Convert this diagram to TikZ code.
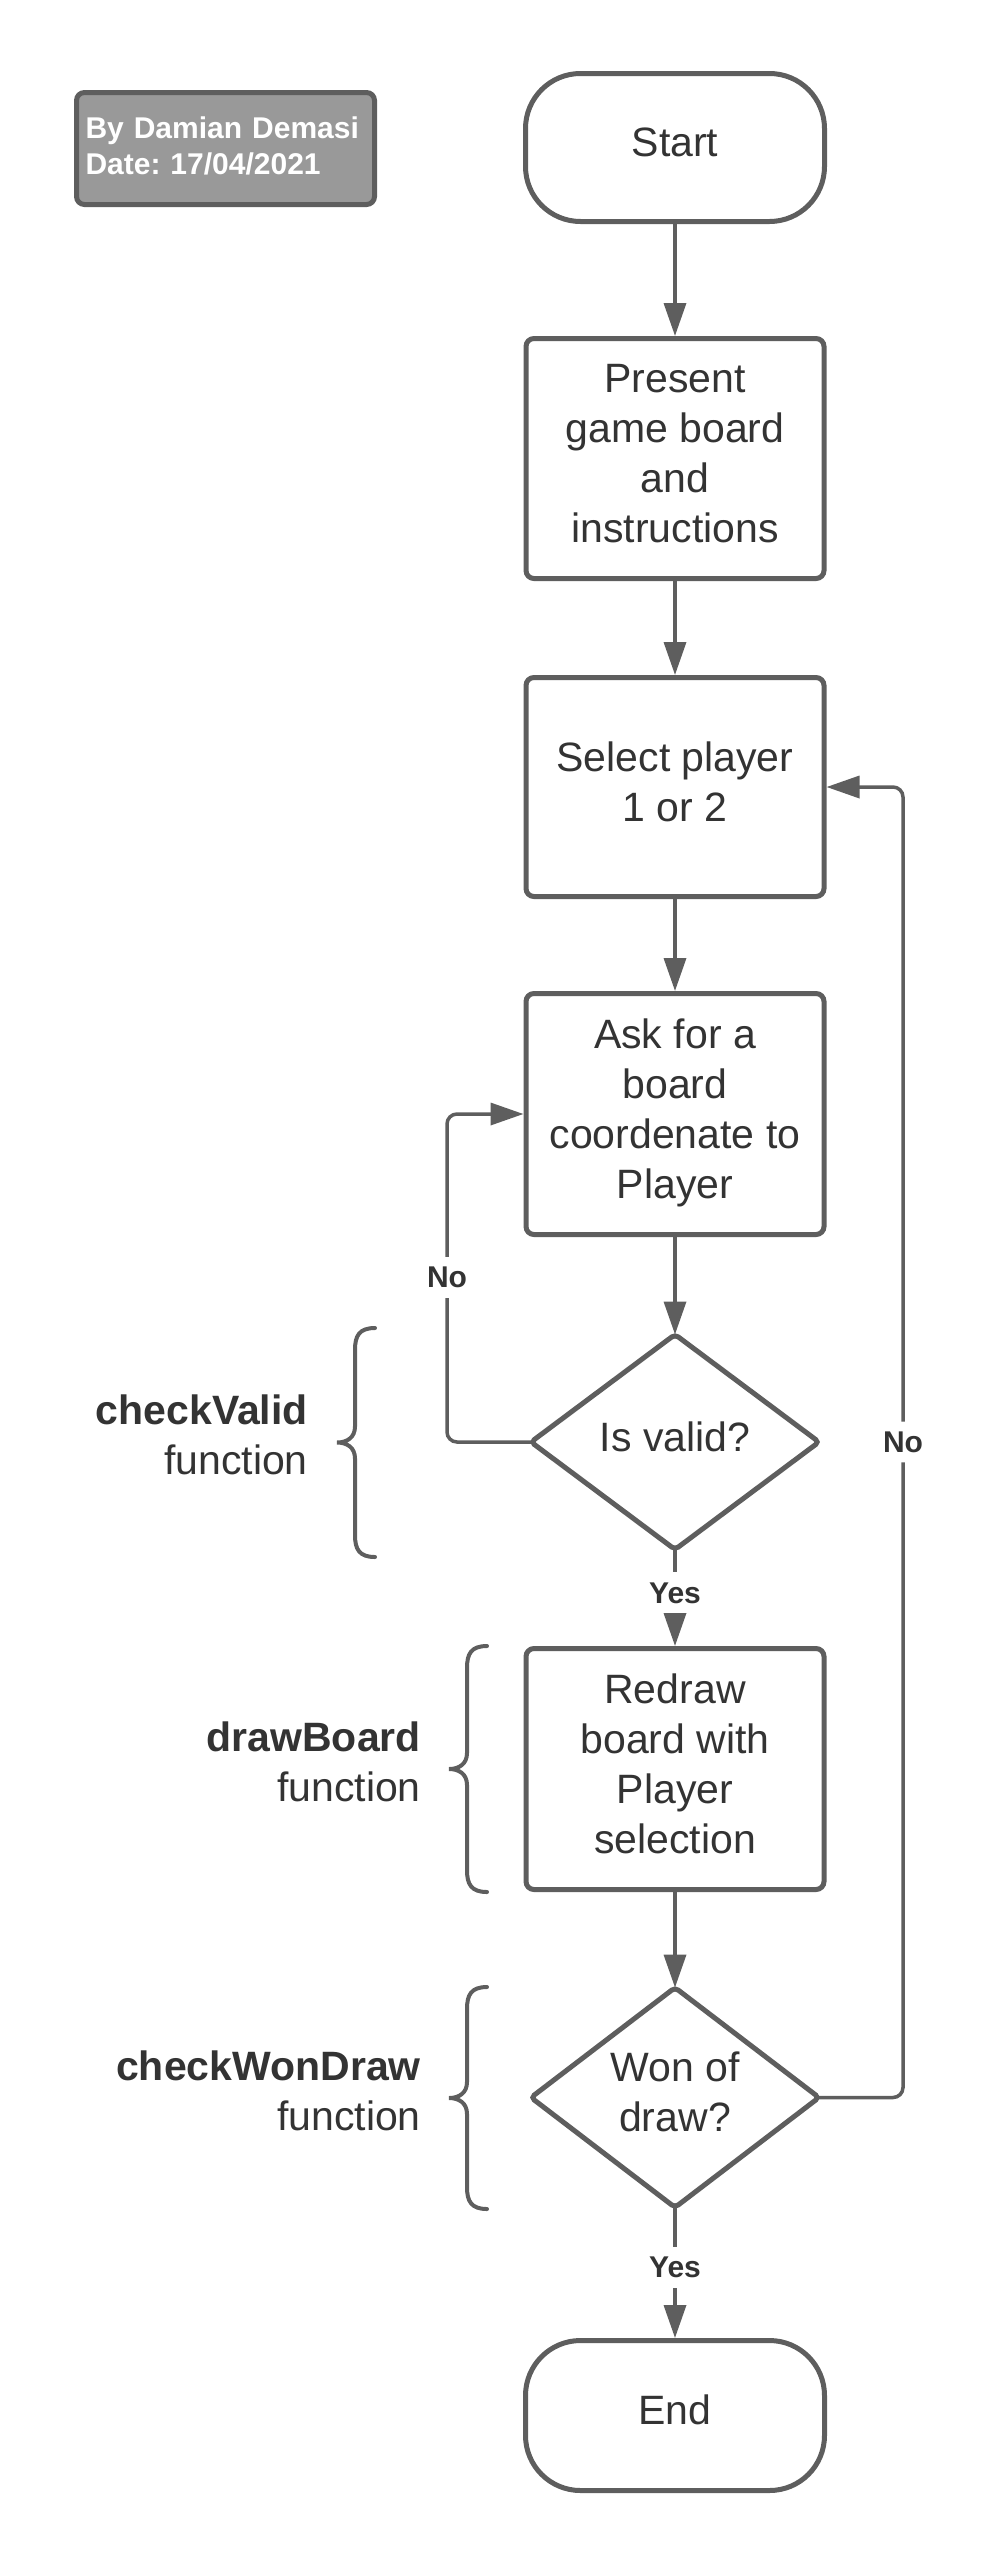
\documentclass[tikz,border=0pt]{standalone}
\usepackage{fontspec}
\setmainfont{Liberation Sans}
\usetikzlibrary{shapes.geometric,arrows.meta}
\definecolor{lc}{HTML}{5E5E5E}
\definecolor{tc}{HTML}{333333}
\definecolor{gf}{HTML}{999999}
\frenchspacing
\newcommand\fnbrace[3]{%
 \pgfmathsetmacro\bxr{#1}\pgfmathsetmacro\bxm{#1-20}\pgfmathsetmacro\bxt{#1-38}%
 \pgfmathsetmacro\byt{#2}\pgfmathsetmacro\byb{#3}\pgfmathsetmacro\bym{(#2+#3)/2}%
 \draw[bracestyle] (\bxr,\byt) .. controls (\bxm+4,\byt) and (\bxm,\byt+8) .. (\bxm,\byt+22)
   -- (\bxm,\bym-16) .. controls (\bxm,\bym-5) and (\bxt+10,\bym) .. (\bxt,\bym)
   .. controls (\bxt+10,\bym) and (\bxm,\bym+5) .. (\bxm,\bym+16)
   -- (\bxm,\byb-22) .. controls (\bxm,\byb-8) and (\bxm+4,\byb) .. (\bxr,\byb);}
\begin{document}
\begin{tikzpicture}[x=1pt,y=-1pt,
  base/.style={draw=lc, line width=5pt, fill=white, text=tc,
    font=\fontsize{41}{50}\selectfont, align=center, inner sep=0pt,
    execute at end node={\rule[-11pt]{0pt}{11pt}}},
  proc/.style={base, rectangle, rounded corners=8pt, minimum width=298pt, minimum height=241pt},
  term/.style={base, rectangle, rounded corners=55pt, minimum width=299pt, minimum height=148pt},
  dec/.style={base, diamond, rounded corners=4pt, outer sep=0pt, minimum width=288pt, minimum height=215pt},
  conn/.style={draw=lc, line width=3.5pt, -{Triangle[length=33pt,width=22pt]}},
  lbl/.style={fill=white, text=tc, font=\fontsize{30}{36}\selectfont\bfseries, inner xsep=4pt, inner ysep=10pt},
  fntext/.style={text=tc, font=\fontsize{41}{50}\selectfont, align=right, inner sep=0pt, anchor=east},
  bracestyle/.style={draw=lc, line width=4pt, line cap=round},
  authorbox/.style={draw=lc, line width=5pt, fill=gf, rounded corners=8pt,
    minimum width=298pt, minimum height=112pt, text width=280pt, align=left,
    text=white, font=\fontsize{30}{36}\selectfont\bfseries, inner sep=0pt,
    execute at end node={\rule[-5pt]{0pt}{5pt}}}
]
\useasboundingbox (0,0) rectangle (999,2567);

\node[authorbox] (author) at (225.5,148.5) {By Damian Demasi\\Date: 17/04/2021};

\node[term] (start) at (675,147.5) {Start};
\node[proc, minimum height=240pt] (present) at (675,458.5) {Present\\game board\\and\\instructions};
\node[proc, minimum height=219pt] (select) at (675,787) {Select player\\1 or 2};
\node[proc] (ask) at (675,1114) {Ask for a\\board\\coordenate to\\Player};
\node[dec] (valid) at (675,1442) {Is valid?};
\node[proc] (redraw) at (675,1769) {Redraw\\board with\\Player\\selection};
\node[dec] (won) at (675,2097.5) {Won of\\draw?};
\node[term, minimum height=150pt] (end) at (675,2415.5) {End};

\draw[conn] (start.south) -- (present.north);
\draw[conn] (present.south) -- (select.north);
\draw[conn] (select.south) -- (ask.north);
\draw[conn] (ask.south) -- (valid.north);
\coordinate (lx) at (447,1277.5);
\draw[conn, rounded corners=10pt] (valid.west) -| (lx) node[lbl]{No} |- (ask.west);
\draw[conn] (valid.south) -- node[lbl, pos=0.45]{Yes} (redraw.north);
\draw[conn] (redraw.south) -- (won.north);
\coordinate (rx) at (903,1442);
\draw[conn, rounded corners=10pt] (won.east) -| (rx) node[lbl]{No} |- (select.east);
\draw[conn] (won.south) -- node[lbl, pos=0.46]{Yes} (end.north);

\fnbrace{375}{1328}{1557}
\fnbrace{487}{1646}{1892}
\fnbrace{487}{1987}{2209}
\node[fntext] (cvtext) at (308,1435) {\textbf{checkValid}\\function};
\node[fntext] (dbtext) at (421,1762) {\textbf{drawBoard}\\function};
\node[fntext] (cwtext) at (421,2091) {\textbf{checkWonDraw}\\function};
\end{tikzpicture}
\end{document}
